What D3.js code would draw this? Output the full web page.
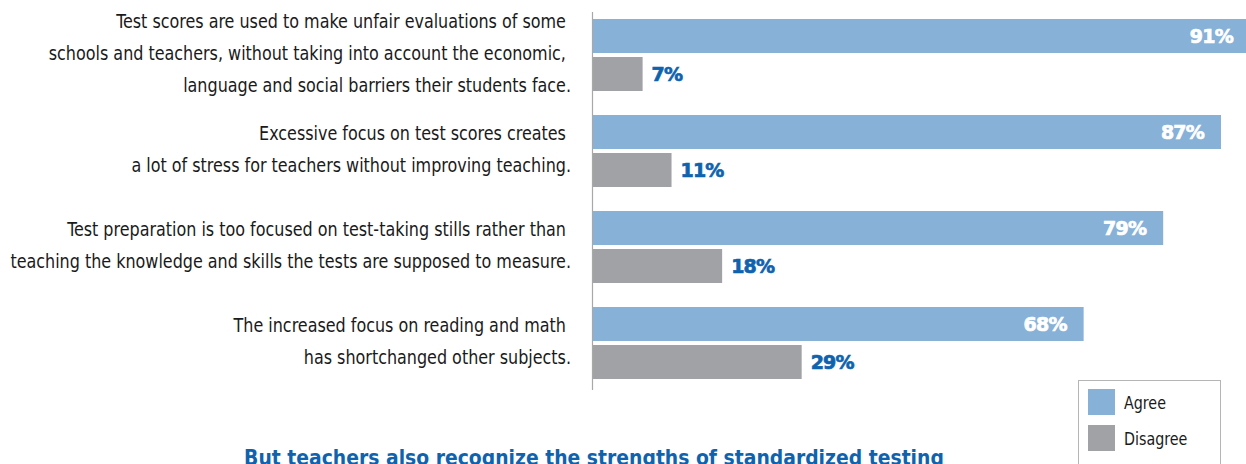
<!DOCTYPE html>
<html>
<head>
<meta charset="utf-8">
<script src="https://cdn.jsdelivr.net/npm/d3@7"></script>
<style>
  html, body { margin: 0; padding: 0; background: #fff; }
  svg { display: block; }
  .lbl { font-family: "Liberation Sans Narrow", "DejaVu Sans Condensed", "Roboto Condensed", sans-serif; }
</style>
</head>
<body>
<svg id="chart" width="1246" height="464"></svg>
<script>
// statements (one array of lines per category)
const statements = [
  ['Test scores are used to make unfair evaluations of some\u00a0',
   'schools and teachers, without taking into account the economic,\u00a0',
   'language and social barriers their students face.'],
  ['Excessive focus on test scores creates\u00a0',
   'a lot of stress for teachers without improving teaching.'],
  ['Test preparation is too focused on test-taking stills rather than\u00a0',
   'teaching the knowledge and skills the tests are supposed to measure.'],
  ['The increased focus on reading and math\u00a0',
   'has shortchanged other subjects.']
]
const series = ['Agree', 'Disagree']
const agree = [91, 87, 79, 68]
const disagree = [7, 11, 18, 29]
const subtitle = 'But teachers also recognize the strengths of standardized testing'

const colors = { Agree: '#87b1d7', Disagree: '#a1a2a5' }
const blue = '#0f63ae'

const svg = d3.select('#chart')

// layout
const left0 = 592
const squeeze = 0.935 // narrow the condensed font a bit more

// groups: 72px bands, 24px gaps
const y = d3.scaleBand()
  .domain(d3.range(statements.length))
  .range([19, 379])
  .paddingInner(0.25)
  .paddingOuter(0)

const yInner = d3.scaleBand()
  .domain(series)
  .range([0, y.bandwidth()])
  .paddingInner(4 / 38)

const x = d3.scaleLinear().domain([0, 100]).range([left0, left0 + 723])

const rows = statements.map((lines, i) => ({
  i, lines, values: [{ key: 'Agree', v: agree[i] }, { key: 'Disagree', v: disagree[i] }]
}))

const g = svg.selectAll('g.row')
  .data(rows)
  .join('g')
  .attr('class', 'row')
  .attr('transform', d => `translate(0,${y(d.i)})`)

// bars
g.selectAll('rect')
  .data(d => d.values)
  .join('rect')
  .attr('x', x(0))
  .attr('y', d => yInner(d.key))
  .attr('width', d => x(d.v) - x(0))
  .attr('height', yInner.bandwidth())
  .attr('fill', d => colors[d.key])

// value labels
g.selectAll('text.val')
  .data(d => d.values)
  .join('text')
  .attr('class', 'val')
  .attr('x', d => d.key === 'Agree' ? x(d.v) - 17 : x(d.v) + 9)
  .attr('y', d => yInner(d.key) + yInner.bandwidth() / 2 + 7)
  .attr('text-anchor', d => d.key === 'Agree' ? 'end' : 'start')
  .attr('fill', d => d.key === 'Agree' ? '#fff' : blue)
  .attr('stroke', d => d.key === 'Agree' ? '#fff' : blue)
  .attr('stroke-width', 0.7)
  .style('font-family', '"DejaVu Sans", sans-serif')
  .style('font-weight', 'bold')
  .style('font-size', '19px')
  .style('letter-spacing', '-0.8px')
  .text(d => d.v + '%')

// statement labels, centred on the group
g.each(function (d) {
  const n = d.lines.length
  const mid = y.bandwidth() / 2
  const first = mid - (n - 1) * 16 + 5
  const t = d3.select(this).append('g')
    .attr('transform', `translate(571,0) scale(${squeeze},1)`)
    .append('text')
    .attr('class', 'lbl')
    .attr('text-anchor', 'end')
    .attr('fill', '#1a1a1a')
    .style('font-size', '19px')
  d.lines.forEach((line, k) => {
    t.append('tspan')
      .attr('x', 0)
      .attr('y', first + k * 32)
      .text(line)
  })
})

// axis line
svg.append('line')
  .attr('x1', left0 + 0.5).attr('x2', left0 + 0.5)
  .attr('y1', 12).attr('y2', 390)
  .attr('stroke', '#a8a8a8')
  .attr('stroke-width', 1.2)

// legend
const legend = svg.append('g').attr('transform', 'translate(1078,380)')
legend.append('rect')
  .attr('x', 0.5).attr('y', 0.5)
  .attr('width', 142).attr('height', 100)
  .attr('fill', '#fff')
  .attr('stroke', '#b5b5b5')
  .attr('stroke-width', 1)
const li = legend.selectAll('g.item')
  .data(series)
  .join('g')
  .attr('class', 'item')
  .attr('transform', (d, i) => `translate(10,${9 + i * 36})`)
li.append('rect')
  .attr('width', 27).attr('height', 26)
  .attr('fill', d => colors[d])
li.append('text')
  .attr('class', 'lbl')
  .attr('transform', `translate(36,20) scale(${squeeze},1)`)
  .attr('fill', '#1a1a1a')
  .style('font-size', '17px')
  .text(d => d)

// subtitle
svg.append('g')
  .attr('transform', 'translate(594,465) scale(0.95,1)')
  .append('text')
  .attr('class', 'lbl')
  .attr('text-anchor', 'middle')
  .attr('fill', blue)
  .style('font-size', '22px')
  .style('font-weight', 'bold')
  .text(subtitle)
</script>
</body>
</html>
